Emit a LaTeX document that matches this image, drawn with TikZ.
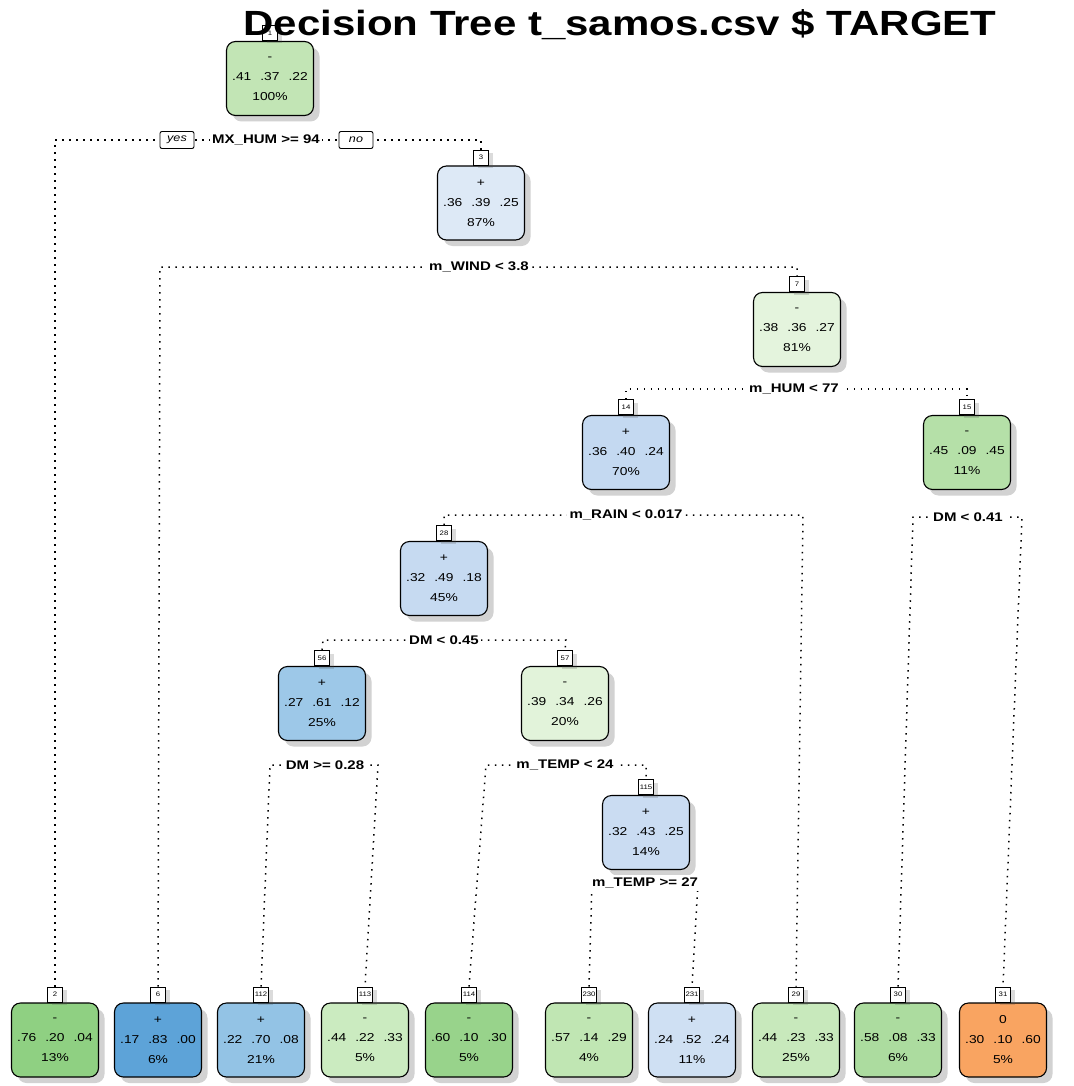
\documentclass[tikz,border=0pt]{standalone}
\usepackage{fontspec}
\setmainfont[FakeStretch=1.2]{Liberation Sans}
\usetikzlibrary{shadows}

\definecolor{cRoot}{HTML}{C2E5B5}
\definecolor{cN3}{HTML}{DDE9F6}
\definecolor{cN7}{HTML}{E4F4DD}
\definecolor{cN14}{HTML}{C4D9F1}
\definecolor{cN15}{HTML}{B5E0A8}
\definecolor{cN28}{HTML}{C6DAF1}
\definecolor{cN56}{HTML}{9DC8E8}
\definecolor{cN57}{HTML}{E2F3DA}
\definecolor{cN115}{HTML}{CADCF2}
\definecolor{cL2}{HTML}{8FD082}
\definecolor{cL6}{HTML}{5DA3D8}
\definecolor{cL112}{HTML}{93C3E5}
\definecolor{cL113}{HTML}{CBEBC0}
\definecolor{cL114}{HTML}{98D38B}
\definecolor{cL230}{HTML}{C0E6B3}
\definecolor{cL231}{HTML}{CFE0F3}
\definecolor{cL29}{HTML}{C8E9BC}
\definecolor{cL30}{HTML}{ACDC9F}
\definecolor{cL31}{HTML}{F9A461}

\newcommand{\probs}[3]{#1\hspace{9pt}#2\hspace{9pt}#3}

\begin{document}
\begin{tikzpicture}[x=1pt,y=-1pt,
  tnode/.style={draw=black, line width=1.1pt, rounded corners=9pt,
    minimum width=87pt, minimum height=74pt, align=center, inner sep=0pt,
    font=\fontsize{11.5}{20}\selectfont,
    drop shadow={shadow xshift=6pt, shadow yshift=-6pt, opacity=0.25, fill=black!70}},
  idbox/.style={draw=black, fill=white, line width=0.9pt, anchor=south,
    minimum width=15pt, minimum height=15pt, inner sep=1pt,
    font=\fontsize{6.5}{6.5}\selectfont,
    drop shadow={shadow xshift=4pt, shadow yshift=-3pt, opacity=0.2, fill=black!70}},
  splitlbl/.style={fill=white, inner sep=2.5pt, font=\bfseries\fontsize{12.5}{13}\selectfont},
  yesno/.style={draw=black, fill=white, line width=0.9pt, rounded corners=2pt,
    minimum width=34pt, minimum height=17pt, inner sep=1pt,
    font=\itshape\fontsize{10.5}{10.5}\selectfont},
  edge/.style={line width=1.5pt, dash pattern=on 1.5pt off 5.5pt}]

% page
\fill[white] (0,0) rectangle (1073,1086);
\useasboundingbox (0,0) rectangle (1073,1086);

% ---------- internal nodes ----------
\node[tnode, fill=cRoot] (n1) at (270,78.5) {-\\\probs{.41}{.37}{.22}\\100\%};
\node[idbox] (n1id) at (n1.north) {1};
\node[tnode, fill=cN3] (n3) at (481,203) {+\\\probs{.36}{.39}{.25}\\87\%};
\node[idbox] (n3id) at (n3.north) {3};
\node[tnode, fill=cN7] (n7) at (797,329.5) {-\\\probs{.38}{.36}{.27}\\81\%};
\node[idbox] (n7id) at (n7.north) {7};
\node[tnode, fill=cN14] (n14) at (626,452.5) {+\\\probs{.36}{.40}{.24}\\70\%};
\node[idbox] (n14id) at (n14.north) {14};
\node[tnode, fill=cN15] (n15) at (967,452.5) {-\\\probs{.45}{.09}{.45}\\11\%};
\node[idbox] (n15id) at (n15.north) {15};
\node[tnode, fill=cN28] (n28) at (444,578.5) {+\\\probs{.32}{.49}{.18}\\45\%};
\node[idbox] (n28id) at (n28.north) {28};
\node[tnode, fill=cN56] (n56) at (322,703.5) {+\\\probs{.27}{.61}{.12}\\25\%};
\node[idbox] (n56id) at (n56.north) {56};
\node[tnode, fill=cN57] (n57) at (565,703.5) {-\\\probs{.39}{.34}{.26}\\20\%};
\node[idbox] (n57id) at (n57.north) {57};
\node[tnode, fill=cN115] (n115) at (646,832.5) {+\\\probs{.32}{.43}{.25}\\14\%};
\node[idbox] (n115id) at (n115.north) {115};

% ---------- leaves ----------
\node[tnode, fill=cL2] (l2) at (55,1040) {-\\\probs{.76}{.20}{.04}\\13\%};
\node[idbox] (l2id) at (l2.north) {2};
\node[tnode, fill=cL6] (l6) at (158,1040) {+\\\probs{.17}{.83}{.00}\\6\%};
\node[idbox] (l6id) at (l6.north) {6};
\node[tnode, fill=cL112] (l112) at (261,1040) {+\\\probs{.22}{.70}{.08}\\21\%};
\node[idbox] (l112id) at (l112.north) {112};
\node[tnode, fill=cL113] (l113) at (365,1040) {-\\\probs{.44}{.22}{.33}\\5\%};
\node[idbox] (l113id) at (l113.north) {113};
\node[tnode, fill=cL114] (l114) at (469,1040) {-\\\probs{.60}{.10}{.30}\\5\%};
\node[idbox] (l114id) at (l114.north) {114};
\node[tnode, fill=cL230] (l230) at (589,1040) {-\\\probs{.57}{.14}{.29}\\4\%};
\node[idbox] (l230id) at (l230.north) {230};
\node[tnode, fill=cL231] (l231) at (692,1040) {+\\\probs{.24}{.52}{.24}\\11\%};
\node[idbox] (l231id) at (l231.north) {231};
\node[tnode, fill=cL29] (l29) at (796,1040) {-\\\probs{.44}{.23}{.33}\\25\%};
\node[idbox] (l29id) at (l29.north) {29};
\node[tnode, fill=cL30] (l30) at (898,1040) {-\\\probs{.58}{.08}{.33}\\6\%};
\node[idbox] (l30id) at (l30.north) {30};
\node[tnode, fill=cL31] (l31) at (1003,1040) {0\\\probs{.30}{.10}{.60}\\5\%};
\node[idbox] (l31id) at (l31.north) {31};

% ---------- split corners ----------
\coordinate (s1l) at (55,140);   \coordinate (s1r) at (481,140);
\coordinate (s3l) at (160,267);  \coordinate (s3r) at (797,267);
\coordinate (s7l) at (626,389);  \coordinate (s7r) at (967,389);
\coordinate (s14l) at (444,515); \coordinate (s14r) at (803,515);
\coordinate (s15l) at (913,517); \coordinate (s15r) at (1022,517);
\coordinate (s28l) at (323,640); \coordinate (s28r) at (566,640);
\coordinate (s56l) at (270,765); \coordinate (s56r) at (378,765);
\coordinate (s57l) at (486,765); \coordinate (s57r) at (646,765);
\coordinate (s115l) at (592,883); \coordinate (s115r) at (698,883);

% ---------- connectors ----------
\draw[edge] (l2id.north) -- (s1l) -- (s1r) -- (n3id.north);
\draw[edge] (l6id.north) -- (s3l) -- (s3r) -- (n7id.north);
\draw[edge] (n14id.north) -- (s7l) -- (s7r) -- (n15id.north);
\draw[edge] (n28id.north) -- (s14l) -- (s14r) -- (l29id.north);
\draw[edge] (l30id.north) -- (s15l) -- (s15r) -- (l31id.north);
\draw[edge] (n56id.north) -- (s28l) -- (s28r) -- (n57id.north);
\draw[edge] (l112id.north) -- (s56l) -- (s56r) -- (l113id.north);
\draw[edge] (l114id.north) -- (s57l) -- (s57r) -- (n115id.north);
\draw[edge] (l230id.north) -- (s115l) -- (s115r) -- (l231id.north);

% ---------- split labels ----------
\node[yesno] (yes) at (177,140) {yes};
\node[splitlbl] (q1) at (266,140) {MX\_HUM >= 94};
\node[yesno] (no) at (356,140) {no};
\node[splitlbl] (q3) at (479,267) {m\_WIND < 3.8};
\node[splitlbl] (q7) at (794,389) {m\_HUM < 77};
\node[splitlbl] (q14) at (626,515) {m\_RAIN < 0.017};
\node[splitlbl] (q15) at (968,517) {DM < 0.41};
\node[splitlbl] (q28) at (444,640) {DM < 0.45};
\node[splitlbl] (q56) at (325,765) {DM >= 0.28};
\node[splitlbl] (q57) at (565,765) {m\_TEMP < 24};
\node[splitlbl] (q115) at (645,883) {m\_TEMP >= 27};

% ---------- title ----------
\node[font=\bfseries\fontsize{35}{35}\selectfont, inner sep=0pt] (title) at (620,25) {Decision Tree t\_samos.csv \$ TARGET};
\end{tikzpicture}
\end{document}
